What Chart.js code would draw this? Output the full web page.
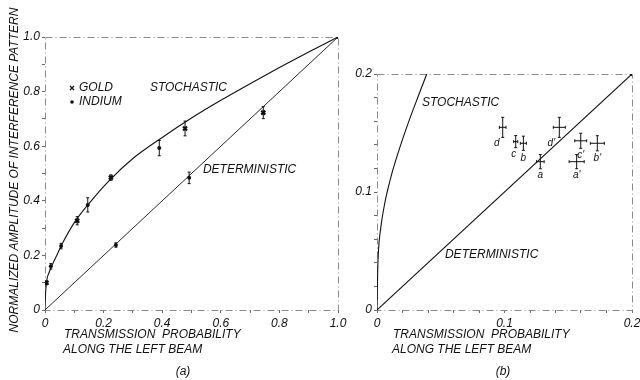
<!DOCTYPE html>
<html>
<head>
<meta charset="utf-8">
<script src="https://cdn.jsdelivr.net/npm/chart.js@4.4.1/dist/chart.umd.min.js"></script>
<style>
    html, body { margin: 0; padding: 0; background: #fff; }
    #wrap { position: relative; width: 640px; height: 380px; overflow: hidden; }
    #chartA { position: absolute; left: 0; top: 0; }
    #chartB { position: absolute; left: 345px; top: 0; }
</style>
</head>
<body>
<div id="wrap">
    <canvas id="chartA" width="360" height="380"></canvas>
    <canvas id="chartB" width="295" height="380"></canvas>
</div>
<script>
// ==== Data ====

// Panel (a): full range
const stochasticAX = [0, 0.001, 0.005, 0.015, 0.026, 0.04, 0.06, 0.1, 0.15, 0.22, 0.3, 0.4, 0.5, 0.6, 0.7, 0.8, 0.9, 1.0];
const stochasticAY = [0, 0.04, 0.10, 0.14, 0.168, 0.20, 0.245, 0.32, 0.39, 0.475, 0.555, 0.632, 0.703, 0.768, 0.829, 0.888, 0.945, 1.0];
const deterministicAX = [0, 1.0];
const deterministicAY = [0, 1.0];

const goldX = [0.005, 0.11, 0.225, 0.478, 0.745];
const goldY = [0.10, 0.327, 0.485, 0.665, 0.723];
const goldErr = [0.006, 0.015, 0.01, 0.027, 0.022];

const indiumX = [0.02, 0.055, 0.146, 0.39, 0.242, 0.492];
const indiumY = [0.16, 0.234, 0.385, 0.593, 0.238, 0.484];
const indiumErr = [0.01, 0.01, 0.026, 0.028, 0.008, 0.021];

const ticksA = ["0", "0.2", "0.4", "0.6", "0.8", "1.0"];

// Panel (b): zoom on the low transmission region
const stochasticBX = [0, 0.0005, 0.001, 0.003, 0.006, 0.008, 0.012, 0.018, 0.026, 0.033, 0.039];
const stochasticBY = [0, 0.03, 0.047, 0.07, 0.09, 0.1, 0.117, 0.138, 0.163, 0.183, 0.2];
const deterministicBX = [0, 0.2];
const deterministicBY = [0, 0.2];

const sampleNames = ["d", "c", "b", "a", "d'", "c'", "b'", "a'"];
const sampleX = [0.0986, 0.1088, 0.1148, 0.1281, 0.1430, 0.1598, 0.1728, 0.1566];
const sampleY = [0.1548, 0.1427, 0.1413, 0.1257, 0.1548, 0.1434, 0.1413, 0.1257];
const sampleErrX = [0.0026, 0.0016, 0.0024, 0.003, 0.0047, 0.0047, 0.0055, 0.0059];
const sampleErrY = [0.0085, 0.0051, 0.006, 0.006, 0.0085, 0.0064, 0.0064, 0.006];

const ticksB = ["0", "0.1", "0.2"];

// ==== Styling helpers ====
const INK = "#111";
const FAMILY = "'Liberation Sans', Arial, sans-serif";

function pts(xs, ys) {
    return xs.map((x, i) => ({ x: x, y: ys[i] }));
}

// label only the major ticks, using the tick label list
function majorLabel(labels, majorStep) {
    return function (value) {
        const k = Math.round(value / majorStep);
        if (Math.abs(value - k * majorStep) > 1e-6) return "";
        return labels[k] !== undefined ? labels[k] : "";
    };
}

function axis(max, step, labels, majorStep, isY, size) {
    return {
        type: "linear",
        min: 0,
        max: max,
        ticks: {
            stepSize: step,
            autoSkip: false,
            maxRotation: 0,
            padding: isY ? 2 : 3,
            color: INK,
            font: { family: FAMILY, size: 12, style: "italic" },
            callback: majorLabel(labels, majorStep)
        },
        grid: {
            drawOnChartArea: false,
            drawTicks: true,
            tickLength: 3,
            color: "#666"
        },
        border: { display: false },
        afterFit: function (scale) {
            if (isY) {
                scale.width = size;
                scale.paddingTop = 0;
                scale.paddingBottom = 0;
            } else {
                scale.height = size;
                scale.paddingLeft = 0;
                scale.paddingRight = 0;
            }
        }
    };
}

// dashed plot frame
const framePlugin = {
    id: "frame",
    beforeDatasetsDraw(chart) {
        const a = chart.chartArea;
        const ctx = chart.ctx;
        ctx.save();
        ctx.strokeStyle = "#8a8a8a";
        ctx.lineWidth = 1;
        ctx.setLineDash([7, 3, 1, 3]);
        ctx.strokeRect(a.left + 0.5, a.top + 0.5, a.right - a.left, a.bottom - a.top);
        ctx.restore();
    }
};

// error bars from dataset.errX / dataset.errY
const errorBarPlugin = {
    id: "errorBars",
    afterDatasetsDraw(chart) {
        const ctx = chart.ctx;
        const xs = chart.scales.x;
        const ys = chart.scales.y;
        ctx.save();
        ctx.strokeStyle = INK;
        ctx.lineWidth = 1;
        chart.data.datasets.forEach(ds => {
            if (!ds.errY && !ds.errX) return;
            ds.data.forEach((p, i) => {
                const px = xs.getPixelForValue(p.x);
                const py = ys.getPixelForValue(p.y);
                if (ds.errY) {
                    const top = ys.getPixelForValue(p.y + ds.errY[i]);
                    const bot = ys.getPixelForValue(p.y - ds.errY[i]);
                    ctx.beginPath();
                    ctx.moveTo(px, top); ctx.lineTo(px, bot);
                    ctx.moveTo(px - 1.5, top); ctx.lineTo(px + 1.5, top);
                    ctx.moveTo(px - 1.5, bot); ctx.lineTo(px + 1.5, bot);
                    ctx.stroke();
                }
                if (ds.errX) {
                    const l = xs.getPixelForValue(p.x - ds.errX[i]);
                    const r = xs.getPixelForValue(p.x + ds.errX[i]);
                    ctx.beginPath();
                    ctx.moveTo(l, py); ctx.lineTo(r, py);
                    ctx.moveTo(l, py - 1.5); ctx.lineTo(l, py + 1.5);
                    ctx.moveTo(r, py - 1.5); ctx.lineTo(r, py + 1.5);
                    ctx.stroke();
                }
            });
        });
        ctx.restore();
    }
};

function text(ctx, str, x, y, size, align) {
    ctx.font = "italic " + size + "px " + FAMILY;
    ctx.textAlign = align || "left";
    ctx.textBaseline = "middle";
    ctx.fillText(str, x, y);
}

function xTitle(chart, dx) {
    const ctx = chart.ctx;
    const a = chart.chartArea;
    ctx.fillStyle = INK;
    text(ctx, "TRANSMISSION  PROBABILITY", a.left + dx, 335, 12);
    text(ctx, "ALONG THE LEFT BEAM", a.left + dx - 1, 350, 12);
}

// ==== Panel (a) ====
const textA = {
    id: "textA",
    afterDraw(chart) {
        const ctx = chart.ctx;
        const xs = chart.scales.x;
        const ys = chart.scales.y;
        ctx.save();
        ctx.fillStyle = INK;

        // y title
        ctx.save();
        ctx.translate(15, 170);
        ctx.rotate(-Math.PI / 2);
        text(ctx, "NORMALIZED AMPLITUDE OF INTERFERENCE PATTERN", 0, 0, 12, "center");
        ctx.restore();

        xTitle(chart, 19);
        text(ctx, "(a)", 183, 372, 12, "center");

        // legend
        ctx.strokeStyle = INK;
        ctx.lineWidth = 1.3;
        ctx.beginPath();
        ctx.moveTo(70, 86); ctx.lineTo(74, 90);
        ctx.moveTo(74, 86); ctx.lineTo(70, 90);
        ctx.stroke();
        ctx.beginPath();
        ctx.arc(72, 102, 1.8, 0, Math.PI * 2);
        ctx.fill();
        text(ctx, "GOLD", 79, 88, 12);
        text(ctx, "INDIUM", 79, 102, 12);

        text(ctx, "STOCHASTIC", xs.getPixelForValue(0.358), ys.getPixelForValue(0.813), 12);
        text(ctx, "DETERMINISTIC", xs.getPixelForValue(0.539), ys.getPixelForValue(0.513), 12);
        ctx.restore();
    }
};

new Chart(document.getElementById("chartA"), {
    type: "scatter",
    data: {
        datasets: [
            {
                data: pts(stochasticAX, stochasticAY),
                showLine: true,
                cubicInterpolationMode: "monotone",
                borderColor: INK,
                borderWidth: 1.1,
                pointRadius: ctx => (ctx.dataIndex === stochasticAX.length - 1 ? 1.5 : 0),
                pointBackgroundColor: INK
            },
            {
                data: pts(deterministicAX, deterministicAY),
                showLine: true,
                borderColor: INK,
                borderWidth: 0.9,
                pointRadius: 0
            },
            {
                data: pts(goldX, goldY),
                errY: goldErr,
                pointStyle: "crossRot",
                pointRadius: 2.8,
                borderColor: INK,
                borderWidth: 2.2
            },
            {
                data: pts(indiumX, indiumY),
                errY: indiumErr,
                pointStyle: "circle",
                pointRadius: 2,
                backgroundColor: INK,
                borderColor: INK,
                borderWidth: 0
            }
        ]
    },
    options: {
        responsive: false,
        animation: false,
        layout: { padding: { top: 37, right: 22, left: 0, bottom: 0 } },
        plugins: { legend: { display: false }, tooltip: { enabled: false } },
        scales: {
            x: axis(1, 0.1, ticksA, 0.2, false, 70),
            y: axis(1, 0.1, ticksA, 0.2, true, 45)
        }
    },
    plugins: [framePlugin, errorBarPlugin, textA]
});

// ==== Panel (b) ====
const nameOffsets = [[-6, 16], [-2, 13], [0, 15], [0, 14], [-8, 16], [0, 14], [0, 15], [0, 14]];

const textB = {
    id: "textB",
    afterDraw(chart) {
        const ctx = chart.ctx;
        const xs = chart.scales.x;
        const ys = chart.scales.y;
        ctx.save();
        ctx.fillStyle = INK;
        xTitle(chart, 16);
        text(ctx, "(b)", 158, 372, 12, "center");
        text(ctx, "STOCHASTIC", xs.getPixelForValue(0.0353), ys.getPixelForValue(0.176), 12);
        text(ctx, "DETERMINISTIC", xs.getPixelForValue(0.0533), ys.getPixelForValue(0.0466), 12);
        sampleNames.forEach((n, i) => {
            const px = xs.getPixelForValue(sampleX[i]) + nameOffsets[i][0];
            const py = ys.getPixelForValue(sampleY[i]) + nameOffsets[i][1];
            text(ctx, n, px, py, 10, "center");
        });
        ctx.restore();
    }
};

new Chart(document.getElementById("chartB"), {
    type: "scatter",
    data: {
        datasets: [
            {
                data: pts(stochasticBX, stochasticBY),
                showLine: true,
                cubicInterpolationMode: "monotone",
                borderColor: INK,
                borderWidth: 1.1,
                pointRadius: 0
            },
            {
                data: pts(deterministicBX, deterministicBY),
                showLine: true,
                borderColor: INK,
                borderWidth: 1.1,
                pointRadius: ctx => (ctx.dataIndex === 1 ? 1.5 : 0),
                pointBackgroundColor: INK
            },
            {
                data: pts(sampleX, sampleY),
                errX: sampleErrX,
                errY: sampleErrY,
                pointRadius: 0
            }
        ]
    },
    options: {
        responsive: false,
        animation: false,
        layout: { padding: { top: 74, right: 8, left: 0, bottom: 0 } },
        plugins: { legend: { display: false }, tooltip: { enabled: false } },
        scales: {
            x: axis(0.2, 0.02, ticksB, 0.1, false, 70),
            y: axis(0.2, 0.02, ticksB, 0.1, true, 32)
        }
    },
    plugins: [framePlugin, errorBarPlugin, textB]
});
</script>
</body>
</html>
